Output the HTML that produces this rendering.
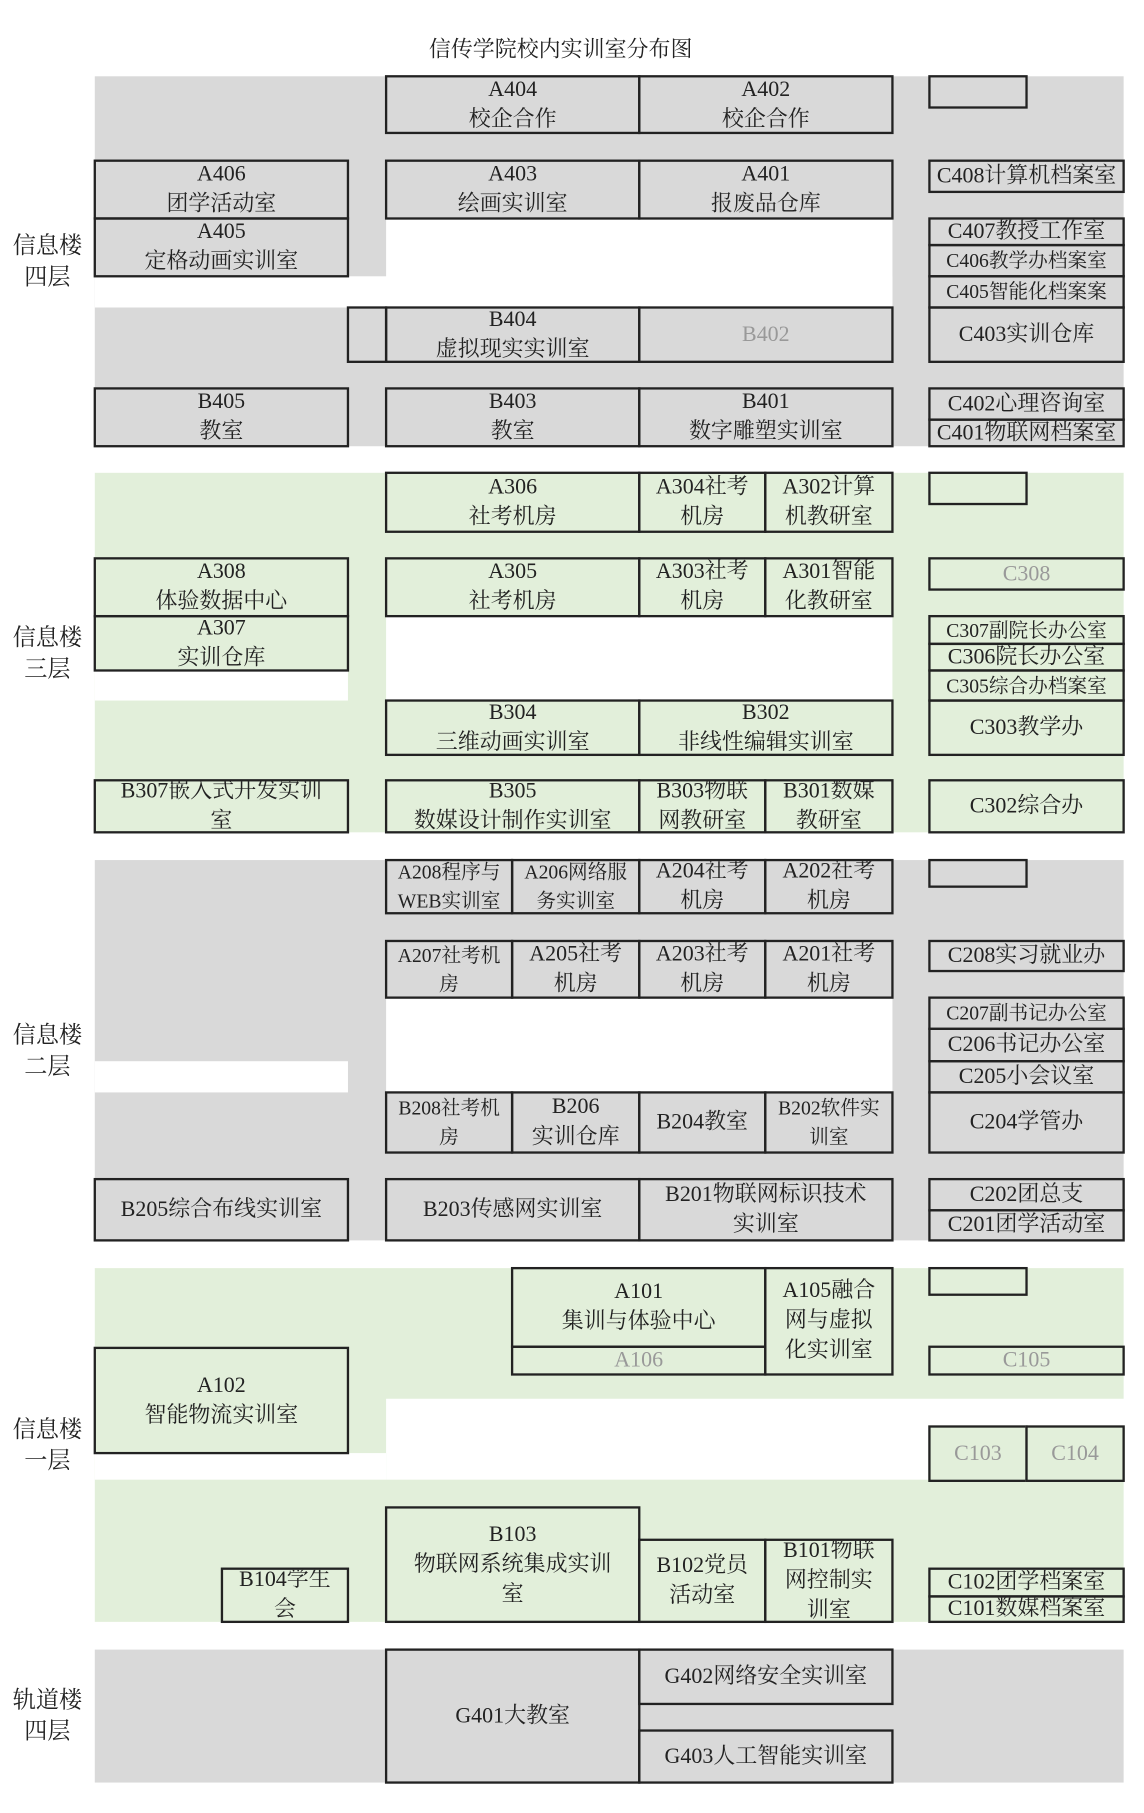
<!DOCTYPE html>
<html><head><meta charset="utf-8">
<style>
html,body{margin:0;padding:0;background:#fff;width:1144px;height:1812px;overflow:hidden}
#c{position:absolute;left:0;top:0;width:990px;height:1568px;transform:scale(1.156);transform-origin:0 0;font-family:"Liberation Serif","Noto Serif CJK SC",serif;color:#222}
.r{position:absolute;left:calc(var(--x)*1px);top:calc(var(--y)*1px);width:calc(var(--w)*1px);height:calc(var(--h)*1px)}
.g{background:#d9d9d9}.n{background:#e2efda}.w{background:#fff}
.b{position:absolute;box-sizing:content-box;border:2px solid #222;left:calc(var(--x)*1px - 1px);top:calc(var(--y)*1px - 1px);width:calc(var(--w)*1px - 2px);height:calc(var(--h)*1px - 2px);display:flex;align-items:center;justify-content:center;text-align:center;overflow:hidden;font-size:19px;line-height:26px;white-space:nowrap}
.gt{color:#999}.s{font-size:17px;line-height:25px}
.lab{position:absolute;left:0;width:82px;text-align:center;font-size:20px;line-height:27px;font-family:"Liberation Serif","Noto Serif CJK SC",serif}
</style></head><body><div id="c">
<div style="position:absolute;left:0;width:970px;top:28px;text-align:center;font-size:19px">信传学院校内实训室分布图</div>

<!-- 4F -->
<div class="r g" style="--x:82;--y:66;--w:890;--h:320"></div>
<div class="r w" style="--x:334;--y:190;--w:438;--h:76"></div>
<div class="r w" style="--x:82;--y:239;--w:690;--h:27"></div>
<div class="lab" style="top:200px">信息楼<br>四层</div>
<div class="b" style="--x:334;--y:66;--w:219;--h:49">A404<br>校企合作</div>
<div class="b" style="--x:553;--y:66;--w:219;--h:49">A402<br>校企合作</div>
<div class="b" style="--x:804;--y:66;--w:84;--h:27"></div>
<div class="b" style="--x:82;--y:139;--w:219;--h:50">A406<br>团学活动室</div>
<div class="b" style="--x:82;--y:189;--w:219;--h:50">A405<br>定格动画实训室</div>
<div class="b" style="--x:334;--y:139;--w:219;--h:50">A403<br>绘画实训室</div>
<div class="b" style="--x:553;--y:139;--w:219;--h:50">A401<br>报废品仓库</div>
<div class="b" style="--x:804;--y:139;--w:168;--h:27">C408计算机档案室</div>
<div class="b" style="--x:804;--y:189;--w:168;--h:23">C407教授工作室</div>
<div class="b s" style="--x:804;--y:212;--w:168;--h:27">C406教学办档案室</div>
<div class="b s" style="--x:804;--y:239;--w:168;--h:27">C405智能化档案案</div>
<div class="b" style="--x:804;--y:266;--w:168;--h:47">C403实训仓库</div>
<div class="b" style="--x:301;--y:266;--w:33;--h:47"></div>
<div class="b" style="--x:334;--y:266;--w:219;--h:47">B404<br>虚拟现实实训室</div>
<div class="b gt" style="--x:553;--y:266;--w:219;--h:47">B402</div>
<div class="b" style="--x:82;--y:336;--w:219;--h:50">B405<br>教室</div>
<div class="b" style="--x:334;--y:336;--w:219;--h:50">B403<br>教室</div>
<div class="b" style="--x:553;--y:336;--w:219;--h:50">B401<br>数字雕塑实训室</div>
<div class="b" style="--x:804;--y:336;--w:168;--h:27">C402心理咨询室</div>
<div class="b" style="--x:804;--y:363;--w:168;--h:23">C401物联网档案室</div>

<!-- 3F -->
<div class="r n" style="--x:82;--y:409;--w:890;--h:311"></div>
<div class="r w" style="--x:334;--y:533;--w:438;--h:73"></div>
<div class="r w" style="--x:82;--y:580;--w:219;--h:26"></div>
<div class="lab" style="top:539px">信息楼<br>三层</div>
<div class="b" style="--x:334;--y:409;--w:219;--h:51">A306<br>社考机房</div>
<div class="b" style="--x:553;--y:409;--w:109;--h:51">A304社考<br>机房</div>
<div class="b" style="--x:662;--y:409;--w:110;--h:51">A302计算<br>机教研室</div>
<div class="b" style="--x:804;--y:409;--w:84;--h:27"></div>
<div class="b" style="--x:82;--y:483;--w:219;--h:50">A308<br>体验数据中心</div>
<div class="b" style="--x:82;--y:533;--w:219;--h:47">A307<br>实训仓库</div>
<div class="b" style="--x:334;--y:483;--w:219;--h:50">A305<br>社考机房</div>
<div class="b" style="--x:553;--y:483;--w:109;--h:50">A303社考<br>机房</div>
<div class="b" style="--x:662;--y:483;--w:110;--h:50">A301智能<br>化教研室</div>
<div class="b gt" style="--x:804;--y:483;--w:168;--h:27">C308</div>
<div class="b s" style="--x:804;--y:533;--w:168;--h:24">C307副院长办公室</div>
<div class="b" style="--x:804;--y:557;--w:168;--h:23">C306院长办公室</div>
<div class="b s" style="--x:804;--y:580;--w:168;--h:26">C305综合办档案室</div>
<div class="b" style="--x:804;--y:606;--w:168;--h:47">C303教学办</div>
<div class="b" style="--x:334;--y:606;--w:219;--h:47">B304<br>三维动画实训室</div>
<div class="b" style="--x:553;--y:606;--w:219;--h:47">B302<br>非线性编辑实训室</div>
<div class="b" style="--x:82;--y:675;--w:219;--h:45">B307嵌入式开发实训<br>室</div>
<div class="b" style="--x:334;--y:675;--w:219;--h:45">B305<br>数媒设计制作实训室</div>
<div class="b" style="--x:553;--y:675;--w:109;--h:45">B303物联<br>网教研室</div>
<div class="b" style="--x:662;--y:675;--w:110;--h:45">B301数媒<br>教研室</div>
<div class="b" style="--x:804;--y:675;--w:168;--h:45">C302综合办</div>

<!-- 2F -->
<div class="r g" style="--x:82;--y:744;--w:890;--h:329"></div>
<div class="r w" style="--x:334;--y:863;--w:438;--h:82"></div>
<div class="r w" style="--x:82;--y:918;--w:219;--h:27"></div>
<div class="lab" style="top:883px">信息楼<br>二层</div>
<div class="b s" style="--x:334;--y:744;--w:109;--h:46">A208程序与<br>WEB实训室</div>
<div class="b s" style="--x:443;--y:744;--w:110;--h:46">A206网络服<br>务实训室</div>
<div class="b" style="--x:553;--y:744;--w:109;--h:46">A204社考<br>机房</div>
<div class="b" style="--x:662;--y:744;--w:110;--h:46">A202社考<br>机房</div>
<div class="b" style="--x:804;--y:744;--w:84;--h:23"></div>
<div class="b s" style="--x:334;--y:814;--w:109;--h:49">A207社考机<br>房</div>
<div class="b" style="--x:443;--y:814;--w:110;--h:49">A205社考<br>机房</div>
<div class="b" style="--x:553;--y:814;--w:109;--h:49">A203社考<br>机房</div>
<div class="b" style="--x:662;--y:814;--w:110;--h:49">A201社考<br>机房</div>
<div class="b" style="--x:804;--y:814;--w:168;--h:26">C208实习就业办</div>
<div class="b s" style="--x:804;--y:863;--w:168;--h:27">C207副书记办公室</div>
<div class="b" style="--x:804;--y:890;--w:168;--h:28">C206书记办公室</div>
<div class="b" style="--x:804;--y:918;--w:168;--h:27">C205小会议室</div>
<div class="b" style="--x:804;--y:945;--w:168;--h:52">C204学管办</div>
<div class="b s" style="--x:334;--y:945;--w:109;--h:52">B208社考机<br>房</div>
<div class="b" style="--x:443;--y:945;--w:110;--h:52">B206<br>实训仓库</div>
<div class="b" style="--x:553;--y:945;--w:109;--h:52">B204教室</div>
<div class="b s" style="--x:662;--y:945;--w:110;--h:52">B202软件实<br>训室</div>
<div class="b" style="--x:82;--y:1020;--w:219;--h:53">B205综合布线实训室</div>
<div class="b" style="--x:334;--y:1020;--w:219;--h:53">B203传感网实训室</div>
<div class="b" style="--x:553;--y:1020;--w:219;--h:53">B201物联网标识技术<br>实训室</div>
<div class="b" style="--x:804;--y:1020;--w:168;--h:27">C202团总支</div>
<div class="b" style="--x:804;--y:1047;--w:168;--h:26">C201团学活动室</div>

<!-- 1F -->
<div class="r n" style="--x:82;--y:1097;--w:890;--h:306"></div>
<div class="r w" style="--x:334;--y:1210;--w:652;--h:70"></div>
<div class="r w" style="--x:82;--y:1257;--w:252;--h:23"></div>
<div class="lab" style="top:1224px">信息楼<br>一层</div>
<div class="b" style="--x:443;--y:1097;--w:219;--h:68">A101<br>集训与体验中心</div>
<div class="b gt" style="--x:443;--y:1165;--w:219;--h:24">A106</div>
<div class="b" style="--x:662;--y:1097;--w:110;--h:92">A105融合<br>网与虚拟<br>化实训室</div>
<div class="b" style="--x:804;--y:1097;--w:84;--h:23"></div>
<div class="b gt" style="--x:804;--y:1165;--w:168;--h:24">C105</div>
<div class="b" style="--x:82;--y:1166;--w:219;--h:91">A102<br>智能物流实训室</div>
<div class="b gt n" style="--x:804;--y:1234;--w:84;--h:47">C103</div>
<div class="b gt n" style="--x:888;--y:1234;--w:84;--h:47">C104</div>
<div class="b" style="--x:334;--y:1304;--w:219;--h:99">B103<br>物联网系统集成实训<br>室</div>
<div class="b" style="--x:553;--y:1332;--w:109;--h:71">B102党员<br>活动室</div>
<div class="b" style="--x:662;--y:1332;--w:110;--h:71">B101物联<br>网控制实<br>训室</div>
<div class="b" style="--x:192;--y:1357;--w:109;--h:46">B104学生<br>会</div>
<div class="b" style="--x:804;--y:1357;--w:168;--h:24">C102团学档案室</div>
<div class="b" style="--x:804;--y:1381;--w:168;--h:22">C101数媒档案室</div>

<!-- G -->
<div class="r g" style="--x:82;--y:1427;--w:890;--h:115"></div>
<div class="lab" style="top:1458px">轨道楼<br>四层</div>
<div class="b" style="--x:334;--y:1427;--w:219;--h:115">G401大教室</div>
<div class="b" style="--x:553;--y:1427;--w:219;--h:47">G402网络安全实训室</div>
<div class="b" style="--x:553;--y:1497;--w:219;--h:45">G403人工智能实训室</div>
</div></body></html>
